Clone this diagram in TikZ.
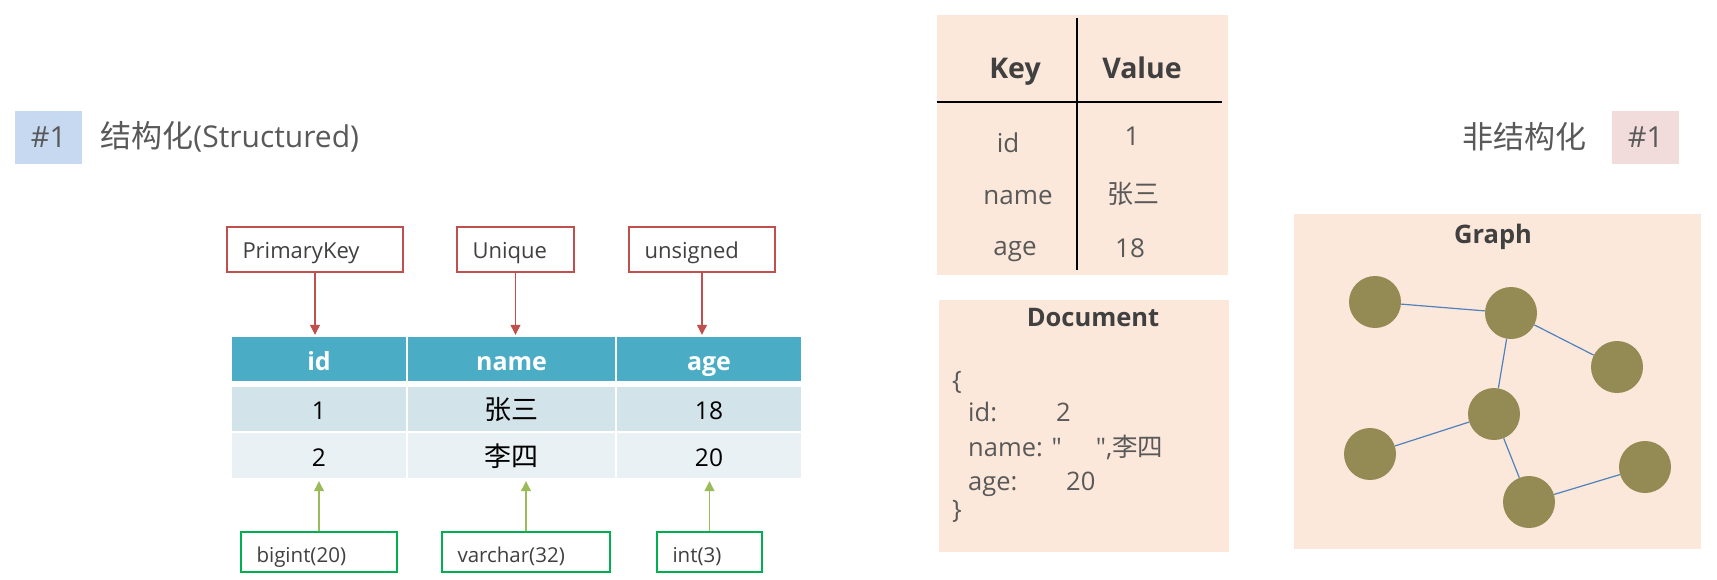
\documentclass[tikz,border=0pt]{standalone}
\usepackage{fontspec}
\setmainfont{Open Sans}[Ligatures=TeXOff]
\newfontfamily\cjk{Noto Sans CJK SC}
\usepackage{tikz}
\usetikzlibrary{shapes,arrows.meta,positioning}
\definecolor{textgray}{HTML}{595959}
\definecolor{darkgray}{HTML}{404040}
\definecolor{tagblue}{HTML}{C6D9F1}
\definecolor{tagpink}{HTML}{F2DCDB}
\definecolor{headblue}{HTML}{4BACC6}
\definecolor{rowone}{HTML}{D2E4EA}
\definecolor{rowtwo}{HTML}{E9F1F4}
\definecolor{redline}{HTML}{C0504D}
\definecolor{greenline}{HTML}{00B050}
\definecolor{greenarrowc}{HTML}{9BBB59}
\definecolor{peach}{HTML}{FCE8DA}
\definecolor{nodeolive}{HTML}{948A54}
\definecolor{linkblue}{HTML}{4F81BD}
\tikzstyle{tag} = [rectangle, minimum width=67pt, minimum height=53pt, inner sep=0pt, text=textgray, font=\fontsize{29}{34}\selectfont]
\tikzstyle{title} = [inner sep=0pt, text=textgray, font=\fontsize{30}{36}\selectfont]
\tikzstyle{headcell} = [rectangle, fill=headblue, text=white, minimum height=44pt, inner sep=0pt, text height=24pt, text depth=2pt, font=\bfseries\fontsize{25}{30}\selectfont]
\tikzstyle{rowcell} = [rectangle, inner sep=0pt, text=black, text height=23pt, text depth=2pt, font=\fontsize{24.5}{29}\selectfont]
\tikzstyle{keybox} = [rectangle, draw=redline, line width=1.5pt, minimum height=45pt, inner xsep=15.5pt, text height=19pt, text depth=2pt, align=left, text=darkgray, font=\fontsize{22}{26}\selectfont]
\tikzstyle{typebox} = [rectangle, draw=greenline, line width=1.5pt, minimum height=40pt, inner xsep=15.5pt, text height=21pt, text depth=1pt, align=left, text=darkgray, font=\fontsize{20.5}{24}\selectfont]
\tikzstyle{redarrow} = [draw=redline, line width=1.2pt, -{Triangle[width=10pt,length=10pt]}, shorten >=2pt]
\tikzstyle{greenarrow} = [draw=greenarrowc, line width=1.2pt, -{Triangle[width=10pt,length=10pt]}, shorten >=3pt]
\tikzstyle{panel} = [rectangle, fill=peach, inner sep=0pt]
\tikzstyle{paneltitle} = [inner sep=0pt, text=darkgray, font=\bfseries\fontsize{25.5}{30}\selectfont]
\tikzstyle{kvhead} = [inner sep=0pt, anchor=base, text=darkgray, font=\bfseries\fontsize{28.5}{33}\selectfont]
\tikzstyle{kvtext} = [inner sep=0pt, anchor=base, text=textgray, font=\fontsize{26}{31}\selectfont]
\tikzstyle{doctext} = [inner sep=0pt, anchor=base west, text=textgray, font=\fontsize{25.5}{30}\selectfont]
\tikzstyle{rule} = [draw=black, line width=1.6pt]
\tikzstyle{vertex} = [circle, fill=nodeolive, minimum size=52pt, inner sep=0pt]
\tikzstyle{link} = [draw=linkblue, line width=1.2pt]
\begin{document}
\begin{tikzpicture}[x=1pt, y=-1pt]
        \useasboundingbox [fill=white] (0,0) rectangle (1717,579);

        % Structured: tag and title
        \node (tag_left) [tag, fill=tagblue] at (48.5,137) {\#1};
        \node (title_left) [title, right=18pt of tag_left] {{\cjk\fontsize{31}{36}\selectfont 结构化}(Structured)};

        % Table header
        \node (head_id) [headcell, minimum width=174pt] at (319,359) {id};
        \node (head_name) [headcell, minimum width=207pt] at (511.5,359) {name};
        \node (head_age) [headcell, minimum width=184pt] at (709,359) {age};

        % Table rows
        \node (id_one) [rowcell, fill=rowone, minimum width=174pt, minimum height=44pt] at (319,409) {1};
        \node (name_one) [rowcell, fill=rowone, minimum width=207pt, minimum height=44pt] at (511.5,409) {\cjk\fontsize{27}{31}\selectfont 张三};
        \node (age_one) [rowcell, fill=rowone, minimum width=184pt, minimum height=44pt] at (709,409) {18};
        \node (id_two) [rowcell, fill=rowtwo, minimum width=174pt, minimum height=45pt] at (319,455.5) {2};
        \node (name_two) [rowcell, fill=rowtwo, minimum width=207pt, minimum height=45pt] at (511.5,455.5) {\cjk\fontsize{27}{31}\selectfont 李四};
        \node (age_two) [rowcell, fill=rowtwo, minimum width=184pt, minimum height=45pt] at (709,455.5) {20};

        % Constraints above the columns
        \node (primary_key) [keybox, text width=145pt] at (315,249.5) {PrimaryKey};
        \node (unique) [keybox, text width=86pt] at (515.5,249.5) {Unique};
        \node (unsigned) [keybox, text width=115pt] at (702,249.5) {unsigned};
        \draw [redarrow] (primary_key.south) -- (primary_key.south |- head_id.north);
        \draw [redarrow] (unique.south) -- (unique.south |- head_name.north);
        \draw [redarrow] (unsigned.south) -- (unsigned.south |- head_age.north);

        % Types below the columns
        \node (bigint) [typebox, text width=125pt] at (319,552) {bigint(20)};
        \node (varchar) [typebox, text width=137pt] at (526,552) {varchar(32)};
        \node (int_type) [typebox, text width=74pt] at (709.5,552) {int(3)};
        \draw [greenarrow] (bigint.north) -- (bigint.north |- id_two.south);
        \draw [greenarrow] (varchar.north) -- (varchar.north |- name_two.south);
        \draw [greenarrow] (int_type.north) -- (int_type.north |- age_two.south);

        % Key-Value
        \node (kv_panel) [panel, minimum width=291pt, minimum height=260pt] at (1082.5,145) {};
        \coordinate (kv_top) at (1077,18);
        \coordinate (kv_bottom) at (1077,270);
        \coordinate (kv_left) at (937,102);
        \coordinate (kv_right) at (1222,102);
        \draw [rule] (kv_top) -- (kv_bottom);
        \draw [rule] (kv_left) -- (kv_right);
        \node (kv_key) [kvhead] at (1015,78.5) {Key};
        \node (kv_value) [kvhead] at (1142,78.5) {Value};
        \node (kv_id) [kvtext] at (1008,152) {id};
        \node (kv_id_val) [kvtext] at (1132,145) {1};
        \node (kv_name) [kvtext] at (1018,204) {name};
        \node (kv_name_val) [kvtext] at (1133,203) {\cjk 张三};
        \node (kv_age) [kvtext] at (1015,255) {age};
        \node (kv_age_val) [kvtext] at (1130,257) {18};

        % Document
        \node (doc_panel) [panel, minimum width=290pt, minimum height=252pt] at (1084,426) {};
        \node (doc_title) [paneltitle] at (1093,318) {Document};
        \node (doc_open) [doctext] at (952,389) {\{};
        \node (doc_id) [doctext] at (968,421) {id:};
        \node (doc_id_val) [doctext] at (1056,421) {2};
        \node (doc_name) [doctext] at (968,456) {name: "\hspace{34pt}",{\cjk 李四}};
        \node (doc_age) [doctext] at (968,490) {age:};
        \node (doc_age_val) [doctext] at (1066,490) {20};
        \node (doc_close) [doctext] at (952,518) {\}};

        % Unstructured: title and tag
        \node (tag_right) [tag, fill=tagpink] at (1645.5,137) {\#1};
        \node (title_right) [title, left=25pt of tag_right] {\cjk\fontsize{31}{36}\selectfont 非结构化};

        % Graph
        \node (graph_panel) [panel, minimum width=407pt, minimum height=335pt] at (1497.5,381.5) {};
        \node (graph_title) [paneltitle] at (1493,237) {Graph};
        \node (v_one) [vertex] at (1375,302) {};
        \node (v_two) [vertex] at (1511,313) {};
        \node (v_three) [vertex] at (1617,367) {};
        \node (v_four) [vertex] at (1494,414) {};
        \node (v_five) [vertex] at (1370,454) {};
        \node (v_six) [vertex] at (1529,502) {};
        \node (v_seven) [vertex] at (1645,467) {};
        \draw [link] (v_one) -- (v_two);
        \draw [link] (v_two) -- (v_three);
        \draw [link] (v_two) -- (v_four);
        \draw [link] (v_four) -- (v_five);
        \draw [link] (v_four) -- (v_six);
        \draw [link] (v_six) -- (v_seven);
\end{tikzpicture}
\end{document}
